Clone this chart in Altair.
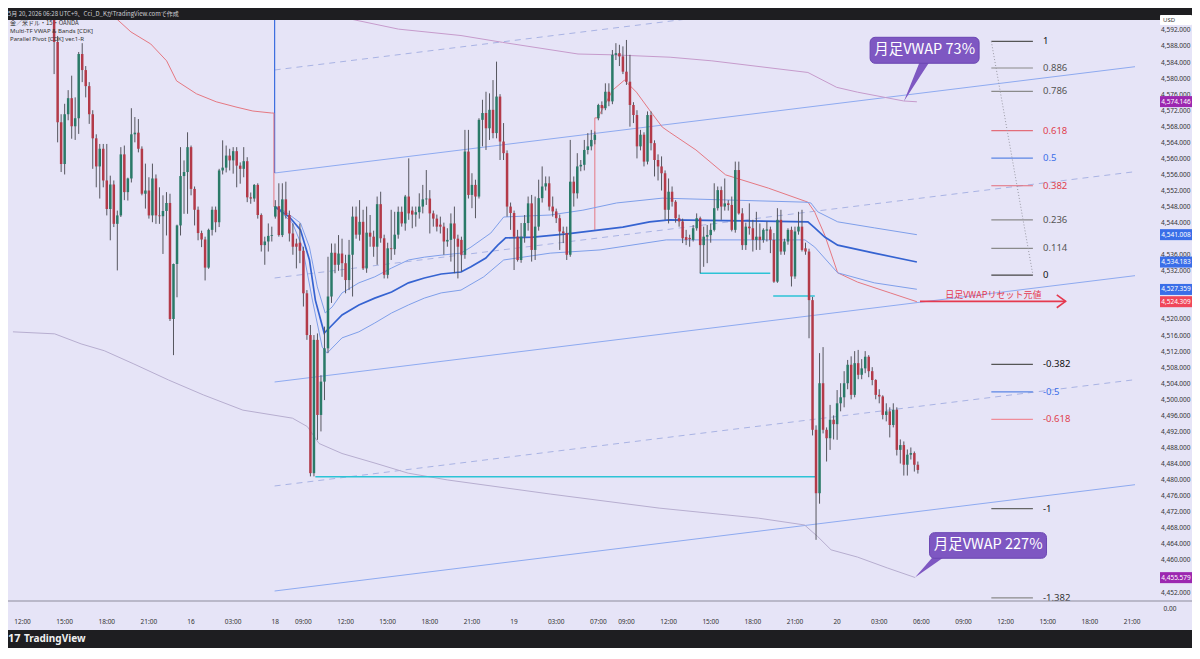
import altair as alt
import pandas as pd

LAV = "#e6e4f7"
DARK = "#1e1e21"
UP = "#2a7a68"
DOWN = "#b33a49"
WICK = "#56565f"
JP = "Noto Sans CJK JP"
LAT = "Noto Sans"

# ---------------- candles: 15-minute bars, hour index t (t=0 -> 15th 12:00 JST) ----------------
fri_start, mon_start, tue_start = 2.25, 18.0, 41.0

fri_o = [4598.0, 4589.0, 4569.0, 4558.6, 4571.0, 4575.0, 4568.0, 4570.0, 4586.0, 4582.0,
         4578.0, 4571.0, 4565.0, 4558.0, 4562.4, 4554.5, 4547.4, 4553.5, 4543.7, 4545.8,
         4561.0, 4551.6, 4555.0, 4566.0, 4566.4, 4562.4, 4551.2, 4552.0, 4545.8, 4555.0,
         4545.8, 4545.6, 4546.9, 4548.9, 4520.0, 4533.7, 4543.3, 4555.6, 4556.6, 4562.8,
         4552.4, 4547.2, 4541.4, 4539.8, 4532.8, 4542.2, 4547.2, 4544.1, 4557.0, 4557.7,
         4560.7, 4559.5, 4561.8, 4558.2, 4557.4, 4559.3, 4550.3, 4550.0, 4553.4, 4545.9,
         4538.4, 4539.3, 4540.7]
fri_h = [4604.0, 4590.5, 4571.0, 4573.6, 4577.0, 4580.6, 4575.2, 4586.5, 4588.7, 4583.0,
         4579.0, 4572.0, 4566.0, 4563.6, 4563.6, 4563.6, 4555.7, 4554.5, 4547.0, 4562.8,
         4563.2, 4555.2, 4572.5, 4570.3, 4569.8, 4563.0, 4558.7, 4555.3, 4558.7, 4556.0,
         4552.8, 4550.8, 4551.6, 4551.2, 4533.8, 4543.5, 4562.8, 4559.5, 4566.5, 4563.2,
         4553.0, 4548.0, 4542.0, 4540.5, 4542.5, 4548.0, 4548.0, 4557.4, 4564.5, 4563.2,
         4562.4, 4562.8, 4562.8, 4559.0, 4562.8, 4560.3, 4551.5, 4553.6, 4553.8, 4546.3,
         4540.5, 4543.8, 4543.0]
fri_l = [4581.0, 4564.0, 4556.6, 4556.0, 4569.5, 4564.9, 4564.6, 4566.1, 4579.0, 4575.2,
         4568.6, 4557.4, 4552.8, 4550.0, 4552.8, 4545.8, 4539.6, 4542.9, 4532.1, 4545.4,
         4549.6, 4549.5, 4554.0, 4564.0, 4561.5, 4550.8, 4547.5, 4545.0, 4544.1, 4543.7,
         4543.7, 4536.2, 4540.8, 4519.5, 4511.0, 4525.4, 4540.8, 4546.2, 4546.2, 4550.8,
         4543.3, 4539.6, 4537.9, 4529.6, 4532.5, 4540.8, 4541.6, 4542.9, 4556.0, 4556.5,
         4557.0, 4556.2, 4552.8, 4553.7, 4555.3, 4549.1, 4548.7, 4549.2, 4545.0, 4536.8,
         4533.5, 4536.8, 4539.3]
fri_c = [4589.0, 4569.0, 4558.6, 4571.0, 4575.0, 4568.0, 4570.0, 4586.0, 4582.0, 4578.0,
         4571.0, 4565.0, 4558.0, 4562.4, 4554.5, 4547.4, 4553.5, 4543.7, 4545.8, 4561.0,
         4551.6, 4555.0, 4566.0, 4566.4, 4562.4, 4551.2, 4552.0, 4545.8, 4555.0, 4545.8,
         4545.6, 4546.9, 4548.9, 4520.0, 4533.7, 4543.3, 4555.6, 4556.6, 4562.8, 4552.4,
         4547.2, 4541.4, 4539.8, 4532.8, 4542.2, 4547.2, 4544.1, 4557.0, 4557.7, 4560.7,
         4559.5, 4561.8, 4558.2, 4557.4, 4559.3, 4550.3, 4550.0, 4553.4, 4545.9, 4538.4,
         4539.3, 4540.7, 4540.9]

mon_o = [4545.5, 4548.1, 4540.9, 4549.8, 4545.9, 4541.3, 4538.8, 4539.0, 4537.0, 4526.4,
         4516.0, 4481.6, 4514.8, 4496.1, 4504.4, 4512.7, 4525.6, 4536.5, 4533.5, 4536.3,
         4533.9, 4529.7, 4536.0, 4545.5, 4541.0, 4544.2, 4532.6, 4541.5, 4540.5, 4538.0,
         4548.6, 4540.1, 4531.0, 4537.6, 4537.4, 4541.0, 4546.7, 4543.8, 4550.5, 4547.0,
         4546.0, 4546.6, 4548.0, 4549.8, 4550.0, 4546.3, 4545.0, 4543.5, 4543.0, 4539.3,
         4539.7, 4543.8, 4540.0, 4539.7, 4536.0, 4561.7, 4550.9, 4553.4, 4550.5, 4569.6,
         4571.3, 4567.5, 4572.1, 4566.3, 4575.4, 4564.2, 4561.3, 4548.0, 4546.4, 4540.5,
         4534.7, 4540.5, 4543.9, 4548.8, 4537.2, 4543.0, 4550.1, 4553.0, 4553.8, 4548.0,
         4546.8, 4545.1, 4541.8, 4541.4, 4536.0, 4554.2, 4551.3, 4558.0, 4558.4, 4562.1,
         4563.0, 4564.6]
mon_h = [4549.6, 4553.8, 4553.8, 4554.2, 4547.0, 4543.8, 4540.0, 4543.8, 4538.0, 4527.2,
         4518.5, 4516.0, 4516.4, 4506.0, 4518.1, 4535.5, 4538.8, 4538.8, 4540.9, 4540.0,
         4536.0, 4539.7, 4548.0, 4548.0, 4549.6, 4547.2, 4548.0, 4545.9, 4542.0, 4550.5,
         4551.7, 4541.0, 4539.0, 4547.2, 4546.7, 4548.0, 4548.0, 4550.9, 4560.0, 4548.0,
         4548.0, 4551.3, 4553.4, 4557.1, 4552.1, 4547.0, 4546.0, 4545.5, 4544.0, 4542.6,
         4546.3, 4548.0, 4541.0, 4540.5, 4567.1, 4567.1, 4556.3, 4554.7, 4570.0, 4574.6,
         4576.6, 4576.2, 4579.5, 4584.1, 4576.0, 4568.8, 4562.0, 4549.0, 4547.0, 4542.2,
         4543.9, 4545.9, 4550.5, 4550.9, 4550.5, 4554.7, 4558.0, 4555.5, 4555.5, 4550.5,
         4547.5, 4546.0, 4543.0, 4543.0, 4564.6, 4555.5, 4561.3, 4559.6, 4564.6, 4566.3,
         4567.1, 4566.7]
mon_l = [4545.0, 4540.5, 4540.4, 4545.0, 4539.3, 4536.0, 4532.6, 4533.9, 4523.1, 4514.8,
         4480.8, 4480.8, 4489.9, 4492.0, 4499.8, 4511.5, 4524.0, 4531.4, 4532.0, 4530.5,
         4526.4, 4527.2, 4525.6, 4540.0, 4539.5, 4532.2, 4531.5, 4538.0, 4535.5, 4533.5,
         4539.0, 4530.1, 4530.1, 4534.7, 4536.0, 4540.0, 4543.0, 4542.0, 4544.7, 4542.6,
         4543.0, 4545.0, 4546.3, 4548.4, 4541.3, 4543.0, 4541.8, 4541.3, 4536.0, 4538.0,
         4534.3, 4531.4, 4530.1, 4531.8, 4535.0, 4550.0, 4547.6, 4545.1, 4550.0, 4563.0,
         4562.1, 4564.6, 4565.0, 4565.0, 4559.6, 4559.6, 4545.5, 4542.2, 4532.2, 4534.3,
         4534.0, 4539.0, 4542.0, 4534.3, 4534.7, 4542.0, 4549.0, 4552.0, 4547.0, 4545.5,
         4543.9, 4537.2, 4538.9, 4534.7, 4535.5, 4548.0, 4550.0, 4556.8, 4557.0, 4561.0,
         4562.0, 4563.5]
mon_c = [4548.1, 4540.9, 4549.8, 4545.9, 4541.3, 4538.0, 4538.0, 4537.0, 4526.4, 4516.0,
         4481.6, 4514.8, 4496.1, 4504.4, 4512.7, 4525.6, 4536.5, 4533.5, 4536.3, 4533.9,
         4529.7, 4536.0, 4545.5, 4541.0, 4544.2, 4532.6, 4541.5, 4540.5, 4538.0, 4548.6,
         4540.1, 4531.0, 4537.6, 4537.4, 4541.0, 4546.7, 4543.8, 4550.5, 4546.3, 4546.0,
         4546.6, 4548.0, 4549.8, 4550.0, 4546.3, 4545.0, 4543.0, 4543.0, 4539.3, 4539.7,
         4543.8, 4540.0, 4538.0, 4536.0, 4561.7, 4550.9, 4553.4, 4550.5, 4569.6, 4571.3,
         4567.5, 4572.1, 4566.3, 4575.4, 4564.2, 4561.3, 4548.0, 4546.4, 4540.5, 4534.7,
         4540.5, 4543.9, 4548.8, 4537.2, 4543.0, 4550.1, 4553.0, 4553.8, 4548.0, 4546.8,
         4545.1, 4541.8, 4541.4, 4536.0, 4554.2, 4551.3, 4558.0, 4558.4, 4562.1, 4563.0,
         4564.6, 4565.9]

tue_o = [4570.0, 4573.3, 4572.5, 4576.6, 4574.2, 4585.8, 4586.2, 4585.4, 4581.6, 4579.1,
         4573.3, 4570.8, 4563.0, 4565.9, 4559.2, 4570.8, 4563.8, 4559.6, 4558.0, 4556.3,
         4547.2, 4551.7, 4549.2, 4545.1, 4544.3, 4540.4, 4540.2, 4539.7, 4542.6, 4545.1,
         4538.4, 4540.5, 4540.9, 4542.2, 4547.6, 4552.1, 4548.0, 4548.8, 4548.4, 4542.2,
         4557.1, 4546.3, 4538.4, 4543.0, 4542.6, 4539.7, 4540.5, 4539.7, 4542.0, 4542.3,
         4539.7, 4529.3, 4544.7, 4536.8, 4539.3, 4542.2, 4530.6, 4541.8, 4543.0, 4537.6,
         4536.8, 4524.7, 4492.4, 4476.6, 4504.0, 4492.4, 4490.3, 4494.9, 4493.8, 4499.0,
         4500.5, 4504.0, 4508.6, 4501.1, 4509.0, 4506.1, 4507.7, 4510.6, 4507.0, 4504.8,
         4501.1, 4500.7, 4496.1, 4497.0, 4493.6, 4497.4, 4487.4, 4488.6, 4483.7, 4486.2,
         4486.6, 4483.7]
tue_h = [4573.6, 4574.2, 4578.7, 4578.7, 4587.0, 4588.7, 4588.3, 4587.9, 4589.5, 4585.8,
         4574.0, 4572.0, 4567.1, 4566.5, 4571.7, 4571.7, 4564.5, 4561.0, 4560.5, 4557.0,
         4555.0, 4553.0, 4549.6, 4546.0, 4545.0, 4542.2, 4541.0, 4543.4, 4546.3, 4545.5,
         4543.0, 4543.4, 4543.8, 4553.8, 4553.0, 4553.0, 4555.0, 4549.6, 4550.5, 4559.2,
         4559.2, 4547.6, 4544.0, 4548.8, 4544.7, 4546.7, 4543.8, 4542.6, 4544.3, 4543.0,
         4541.4, 4547.6, 4547.2, 4540.0, 4542.6, 4543.0, 4543.0, 4546.7, 4547.2, 4539.0,
         4537.5, 4525.5, 4493.5, 4511.5, 4513.0, 4493.0, 4498.6, 4496.0, 4502.3, 4504.0,
         4507.0, 4509.8, 4510.7, 4512.0, 4512.3, 4510.0, 4512.0, 4511.0, 4508.0, 4505.0,
         4502.5, 4501.0, 4499.0, 4498.0, 4499.0, 4498.0, 4490.0, 4489.5, 4487.5, 4488.0,
         4487.0, 4484.5]
tue_l = [4569.5, 4571.0, 4572.0, 4573.0, 4573.5, 4584.5, 4583.0, 4581.0, 4578.3, 4567.9,
         4568.8, 4560.0, 4562.0, 4558.0, 4558.5, 4562.0, 4555.5, 4554.5, 4552.0, 4544.7,
         4543.8, 4548.0, 4544.0, 4543.0, 4538.9, 4538.4, 4538.0, 4539.3, 4542.0, 4531.4,
         4533.0, 4533.9, 4539.0, 4541.8, 4547.0, 4544.7, 4547.0, 4547.0, 4541.8, 4541.5,
         4546.0, 4537.2, 4537.2, 4541.0, 4536.8, 4537.2, 4537.2, 4539.0, 4539.3, 4536.4,
         4529.0, 4529.0, 4536.0, 4536.0, 4538.5, 4528.1, 4530.0, 4541.0, 4536.8, 4536.0,
         4515.2, 4491.0, 4465.0, 4474.0, 4491.5, 4484.5, 4487.4, 4490.0, 4489.9, 4497.0,
         4498.0, 4502.5, 4500.0, 4500.5, 4505.0, 4505.0, 4506.5, 4505.5, 4503.5, 4500.0,
         4499.0, 4495.0, 4494.5, 4490.5, 4493.0, 4486.0, 4484.0, 4481.0, 4481.0, 4485.0,
         4482.0, 4481.5]
tue_c = [4573.3, 4572.5, 4576.6, 4574.2, 4585.8, 4586.2, 4585.4, 4581.6, 4579.1, 4573.3,
         4570.8, 4563.0, 4565.9, 4559.2, 4570.8, 4563.8, 4559.6, 4558.0, 4556.3, 4547.2,
         4551.7, 4549.2, 4545.1, 4544.3, 4540.1, 4539.7, 4539.9, 4542.6, 4545.1, 4538.4,
         4540.5, 4540.9, 4542.2, 4547.6, 4552.1, 4548.0, 4548.8, 4548.4, 4542.2, 4557.1,
         4546.3, 4538.4, 4543.0, 4542.6, 4539.7, 4540.5, 4539.7, 4542.2, 4542.3, 4539.7,
         4529.3, 4544.7, 4536.8, 4539.3, 4542.2, 4530.6, 4541.8, 4543.0, 4537.2, 4536.8,
         4524.7, 4492.4, 4476.6, 4504.0, 4492.4, 4490.3, 4494.9, 4493.8, 4499.0, 4500.5,
         4504.0, 4508.6, 4501.1, 4509.0, 4506.1, 4507.7, 4510.6, 4507.0, 4504.8, 4501.1,
         4500.7, 4496.1, 4497.0, 4493.6, 4497.4, 4487.4, 4488.6, 4483.7, 4486.2, 4486.6,
         4483.7, 4482.4]

# ---------------- indicator lines (t, price) ----------------
wvwap_t = [18.0, 19.01, 19.79, 20.43, 20.85, 21.48, 21.91, 22.75, 23.95, 25.08, 26.28, 27.48, 28.61,
           29.81, 31.22, 31.93, 32.99, 33.84, 34.40, 36.37, 38.77, 41.12, 42.74, 44.65, 46.04, 50.06,
           55.92, 56.41, 57.12, 58.04, 60.65, 63.68]
wvwap_p = [4547.9, 4545.4, 4542.2, 4534.7, 4524.7, 4516.5, 4518.0, 4521.0, 4523.5, 4525.2, 4526.7,
           4529.0, 4530.2, 4531.2, 4531.7, 4533.0, 4535.2, 4538.4, 4540.2, 4540.4, 4541.2, 4542.2,
           4542.9, 4544.2, 4544.7, 4544.5, 4544.2, 4542.7, 4540.4, 4538.4, 4536.4, 4534.2]
wup_t = [18.0, 18.73, 19.79, 20.43, 20.99, 21.55, 22.05, 22.75, 23.95, 25.08, 26.28, 27.48, 28.61,
         29.81, 31.22, 31.93, 33.34, 34.26, 37.57, 39.90, 42.30, 45.55, 55.71, 56.13, 56.62, 58.04,
         60.65, 63.68]
wup_p = [4547.9, 4546.7, 4543.9, 4537.9, 4528.0, 4521.5, 4523.0, 4526.5, 4529.0, 4530.5, 4532.7,
         4534.7, 4535.4, 4535.9, 4536.4, 4537.9, 4541.4, 4545.4, 4545.9, 4547.1, 4548.9, 4550.1,
         4549.1, 4548.9, 4546.7, 4544.2, 4542.7, 4541.0]
wlo_t = [18.0, 19.22, 19.93, 20.64, 21.34, 21.69, 22.75, 23.95, 25.08, 26.28, 27.48, 28.61, 29.81,
         31.22, 32.84, 34.26, 37.57, 41.12, 45.83, 55.71, 56.41, 58.04, 60.65, 63.68]
wlo_p = [4547.9, 4543.9, 4537.9, 4524.7, 4513.0, 4511.5, 4515.3, 4516.8, 4519.0, 4521.5, 4523.5,
         4525.2, 4526.5, 4527.2, 4530.5, 4534.7, 4536.4, 4537.2, 4539.7, 4539.7, 4537.9, 4531.5,
         4529.0, 4527.4]
dfri_t = [5.5, 6.31, 7.72, 9.13, 10.26, 10.97, 12.38, 13.79, 15.20, 16.40, 17.74, 17.9, 17.9]
dfri_p = [4600.0, 4596.0, 4591.5, 4588.5, 4584.3, 4579.3, 4576.1, 4574.1, 4572.8, 4571.8, 4571.3,
          4571.3, 4547.9]
dtue_t = [40.75, 40.75, 40.96, 42.02, 42.86, 43.71, 44.63, 45.55, 46.04, 47.95, 50.06, 53.10, 55.92,
          56.41, 57.12, 58.04, 59.45, 61.78, 63.68]
dtue_p = [4542.2, 4570.1, 4570.1, 4577.0, 4579.5, 4576.5, 4572.1, 4567.8, 4566.6, 4562.1, 4555.9,
          4552.6, 4549.1, 4546.6, 4540.9, 4531.5, 4529.2, 4526.5, 4524.3]
mup_t = [16.40, 21.60, 26.77, 31.22, 34.18, 39.55, 41.95, 46.11, 49.08, 55.92, 57.97, 59.45, 62.74, 63.68]
mup_p = [4601.9, 4596.0, 4592.2, 4590.6, 4588.9, 4586.0, 4585.8, 4585.2, 4584.3, 4581.4, 4577.7,
         4576.5, 4574.3, 4574.1]
mlo_t = [-0.68, 2.29, 4.17, 5.82, 7.93, 10.40, 12.87, 15.69, 19.22, 20.28, 21.11, 22.75, 25.10, 27.46,
         30.28, 37.57, 45.33, 52.39, 55.68, 56.62, 57.57, 59.45, 61.57, 63.56]
mlo_p = [4516.8, 4516.3, 4513.8, 4512.1, 4508.8, 4504.8, 4501.1, 4497.3, 4495.3, 4493.2, 4489.0,
         4486.5, 4484.1, 4481.6, 4479.9, 4476.4, 4472.9, 4470.4, 4468.7, 4465.8, 4462.5, 4460.7,
         4458.0, 4455.6]

# parallel pivot channel (start at Monday open, end at right edge)
chan_t = [17.95, 79.21]
chan_p0 = [4582.02, 4556.36, 4530.21, 4504.31, 4478.41, 4452.25]
chan_p1 = [4608.50, 4582.84, 4556.69, 4530.79, 4504.89, 4478.73]
chan_dashed = [True, False, True, False, True, False]

# horizontal cyan lines
cy_t1 = [20.85, 48.23, 53.45]
cy_t2 = [56.48, 53.24, 56.41]
cy_p = [4480.7, 4531.4, 4525.7]

# fibonacci
fib_levels = [1, 0.886, 0.786, 0.618, 0.5, 0.382, 0.236, 0.114, 0, -0.382, -0.5, -0.618, -1, -1.382]
fib_text = ["1", "0.886", "0.786", "0.618", "0.5", "0.382", "0.236", "0.114", "0",
            "-0.382", "-0.5", "-0.618", "-1", "-1.382"]
fib_hi, fib_lo = 4589.15, 4530.95
fib_t = [68.98, 71.94]
fib_line_col = ["#555", "#8a8a8a", "#8a8a8a", "#e36d7a", "#5b86e5", "#e36d7a", "#8a8a8a", "#8a8a8a",
                "#444", "#555", "#5b86e5", "#f08c99", "#666", "#8a8a8a"]
fib_lab_col = ["#111", "#555", "#555", "#e0404f", "#3a6ee8", "#e0404f", "#555", "#555", "#111",
               "#111", "#3a6ee8", "#e0404f", "#111", "#333"]

# right price tags
tag_p = [4574.146, 4541.008, 4534.183, 4527.359, 4524.309, 4455.579]
tag_col = ["#9c27b0", "#3a6ee8", "#3a6ee8", "#3a6ee8", "#f0475a", "#9c27b0"]

# time axis labels
tl_t = [0, 3, 6, 9, 12, 15, 18, 20, 23, 26, 29, 32, 35, 38, 41, 43, 46, 49, 52, 55, 58, 61, 64,
        67, 70, 73, 76, 79]
tl_s = ["12:00", "15:00", "18:00", "21:00", "16", "03:00", "18", "09:00", "12:00", "15:00", "18:00",
        "21:00", "19", "03:00", "07:00", "09:00", "12:00", "15:00", "18:00", "21:00", "20", "03:00",
        "06:00", "09:00", "12:00", "15:00", "18:00", "21:00"]

# ---------------- scales ----------------
X = alt.Scale(domain=[-0.6775, 79.21], nice=False, zero=False)
Y = alt.Scale(domain=[4449.76, 4594.47], nice=False, zero=False)
ytick = [v for v in range(4452, 4593, 4) if v not in (4456, 4540, 4528, 4524)]
YAX = alt.Axis(orient="right", values=ytick, format=",.3f", labelFontSize=6.5, labelColor="#333",
               labelFont=LAT, domain=False, ticks=False, tickSize=0, grid=False, labelPadding=50,
               labelAlign="right", title=None)


def xq(f="t"):
    return alt.X(f + ":Q", scale=X, axis=None)


def yq(f="p"):
    return alt.Y(f + ":Q", scale=Y, axis=YAX)


def line(ts, ps, color, width=1.0, dash=None):
    df = pd.DataFrame({"t": ts, "p": ps, "i": list(range(len(ts)))})
    kw = dict(color=color, strokeWidth=width, clip=True)
    if dash is not None:
        kw["strokeDash"] = dash
    return alt.Chart(df).mark_line(**kw).encode(x=xq(), y=yq(), order=alt.Order("i:Q"))


ONE = alt.Data(values=[{"a": 1}])


def ptext(txt, x, y, size, color, align="left", weight="normal", font=JP):
    return alt.Chart(ONE).mark_text(text=txt, fontSize=size, color=color, align=align,
                                     baseline="middle", font=font, fontWeight=weight).encode(
        x=alt.value(x), y=alt.value(y))


def pbox(x1, x2, y1, y2, fill, r=0):
    return alt.Chart(ONE).mark_rect(fill=fill, cornerRadius=r).encode(
        x=alt.value(x1), x2=alt.value(x2), y=alt.value(y1), y2=alt.value(y2))


def bars(start, o, h, l, c):
    return pd.DataFrame({"t": [start + 0.25 * k for k in range(len(o))],
                         "open": o, "high": h, "low": l, "close": c})


candles = pd.concat([bars(fri_start, fri_o, fri_h, fri_l, fri_c),
                     bars(mon_start, mon_o, mon_h, mon_l, mon_c),
                     bars(tue_start, tue_o, tue_h, tue_l, tue_c)], ignore_index=True)
candles["dir"] = ["up" if c >= o else "down" for o, c in zip(candles["open"], candles["close"])]

layers = []

# channel lines
for k in range(6):
    if chan_dashed[k]:
        layers.append(line(chan_t, [chan_p0[k], chan_p1[k]], "#a9b3e4", 1.0, [6, 5]))
    else:
        layers.append(line(chan_t, [chan_p0[k], chan_p1[k]], "#8eaaf0", 1.0))

# monthly bands
layers.append(line(mup_t, mup_p, "#c69bcc", 1.0))
layers.append(line(mlo_t, mlo_p, "#b7aed0", 1.0))

# fib
fib_df = pd.DataFrame({
    "t1": [fib_t[0]] * len(fib_levels), "t2": [fib_t[1]] * len(fib_levels),
    "p": [fib_lo + lv * (fib_hi - fib_lo) for lv in fib_levels],
    "lc": fib_line_col, "tc": fib_lab_col, "s": fib_text})
layers.append(alt.Chart(fib_df).mark_rule(strokeWidth=1.2, clip=True).encode(
    x=xq("t1"), x2="t2:Q", y=yq("p"), color=alt.Color("lc:N", scale=None)))
layers.append(alt.Chart(fib_df).mark_text(align="left", baseline="middle", fontSize=9.5, font=LAT,
                                          dx=0).encode(
    x=alt.value((1043 - 8)), y=yq("p"), text="s:N", color=alt.Color("tc:N", scale=None)))
layers.append(line(fib_t, [fib_hi, fib_lo], "#9a9aa5", 1.0, [1, 2]))

# cyan horizontals
cy_df = pd.DataFrame({"t1": cy_t1, "t2": cy_t2, "p": cy_p})
layers.append(alt.Chart(cy_df).mark_rule(color="#2cc3d6", strokeWidth=1.5, clip=True).encode(
    x=xq("t1"), x2="t2:Q", y=yq("p")))

# blue separator
layers.append(line([17.95, 17.95], [4597.0, 4556.36], "#3b6de0", 1.2))

# daily vwap (red)
layers.append(line(dfri_t, dfri_p, "#e57882", 1.0))
layers.append(line(dtue_t, dtue_p, "#e57882", 1.0))

# weekly vwap & bands
layers.append(line(wup_t, wup_p, "#7f9fea", 1.0))
layers.append(line(wlo_t, wlo_p, "#7f9fea", 1.0))
layers.append(line(wvwap_t, wvwap_p, "#3563d1", 1.7))

# candles
layers.append(alt.Chart(candles).mark_rule(color=WICK, strokeWidth=1, clip=True).encode(
    x=xq(), y=yq("low"), y2="high:Q"))
layers.append(alt.Chart(candles).mark_bar(width=2.5, clip=True).encode(
    x=xq(), y=yq("open"), y2="close:Q",
    color=alt.Color("dir:N", scale=alt.Scale(domain=["up", "down"], range=[UP, DOWN]), legend=None)))

# red arrow + text
layers.append(line([63.9, 74.27], [4524.4, 4524.4], "#e5394f", 1.6))
layers.append(line([73.64, 74.27, 73.64], [4526.0, 4524.4, 4522.8], "#e5394f", 1.6))
arr_df = pd.DataFrame({"t": [69.12], "p": [4526.1], "s": ["日足VWAPリセット元値"]})
layers.append(alt.Chart(arr_df).mark_text(fontSize=9, font=JP, color="#e5394f", align="center",
                                          baseline="middle").encode(x=xq(), y=yq(), text="s:N"))


# callouts
def tail_df(tip, a, b):
    frac = (a[0] - tip[0]) / (b[0] - tip[0])
    low_a = tip[1] + (b[1] - tip[1]) * frac
    return pd.DataFrame({"t": [tip[0], a[0], b[0]], "y": [tip[1], a[1], b[1]],
                         "y2": [tip[1], low_a, b[1]]})


PURP = "#7e57c2"
call_df = pd.DataFrame({"t1": [60.35, 64.58], "t2": [68.11, 72.91],
                        "p1": [4590.16, 4466.78], "p2": [4583.69, 4460.40],
                        "tc": [64.23, 68.75], "pc": [4586.9, 4463.6],
                        "s": ["月足VWAP 73%", "月足VWAP 227%"]})
tail1 = tail_df((62.75, 4574.2), (63.90, 4584.2), (64.61, 4584.2))
tail2 = tail_df((63.56, 4455.67), (64.86, 4460.9), (65.70, 4460.9))
for tdf in (tail1, tail2):
    layers.append(alt.Chart(tdf).mark_area(color=PURP, opacity=1).encode(
        x=xq(), y=yq("y"), y2="y2:Q"))
layers.append(alt.Chart(call_df).mark_rect(fill=PURP, stroke="#6b47b3", strokeWidth=1,
                                           cornerRadius=5).encode(
    x=xq("t1"), x2="t2:Q", y=yq("p1"), y2="p2:Q"))
layers.append(alt.Chart(call_df).mark_text(fontSize=14.5, font=JP, color="white", align="center",
                                           baseline="middle").encode(
    x=xq("tc"), y=yq("pc"), text="s:N"))

# price tags on the right axis
tag_df = pd.DataFrame({"p": tag_p, "c": tag_col})
tag_df["a"] = tag_df["p"] + 1.37
tag_df["b"] = tag_df["p"] - 1.37
layers.append(alt.Chart(tag_df).mark_rect().encode(
    x=alt.value(1152), x2=alt.value(1184), y=yq("a"), y2="b:Q", fill=alt.Color("c:N", scale=None)))
layers.append(alt.Chart(tag_df).mark_text(fontSize=6.5, font=LAT, color="white", align="center",
                                          baseline="middle").encode(
    x=alt.value(1168), y=yq("p"), text=alt.Text("p:Q", format=",.3f")))

# chrome: header, legend, time axis, footer
layers.append(pbox(0, 1184, -12, 0, DARK))
layers.append(ptext("5月 20, 2026 06:28 UTC+9、Cci_D_KがTradingView.comで作成", 0, -6, 6, "#cfcfd4"))
layers.append(ptext("金／米ドル・15・OANDA", 2, 3, 6, "#333"))
layers.append(ptext("Multi-TF VWAP & Bands [CDK]", 2, 11, 6, "#333", font=LAT))
layers.append(ptext("Parallel Pivot [CDK] ver.1-R", 2, 19, 6, "#333", font=LAT))
layers.append(pbox(1152, 1184, -5, 5, "#ffffff", 1))
layers.append(ptext("USD", 1155, 0, 6, "#333", font=LAT))
layers.append(alt.Chart(ONE).mark_rule(color="#8d8c9c", strokeWidth=1).encode(
    x=alt.value(0), x2=alt.value(1184), y=alt.value(581)))
tl_df = pd.DataFrame({"t": tl_t, "s": tl_s})
layers.append(alt.Chart(tl_df).mark_text(fontSize=6.5, font=LAT, color="#333", align="center",
                                         baseline="middle").encode(
    x=xq(), y=alt.value(602), text="s:N"))
layers.append(ptext("0.00", 1162, 589, 6.5, "#333", align="center", font=LAT))
layers.append(pbox(0, 1184, 610, 628, DARK))
layers.append(ptext("17", 0, 619, 11, "#f0f0f0", weight="bold", font=LAT))
layers.append(ptext("TradingView", 16, 619, 10, "#f0f0f0", weight="bold", font=LAT))

chart = alt.layer(*layers).properties(
    width=1132, height=581,
    padding={"left": 0, "top": 12, "right": 52, "bottom": 47},
    autosize=alt.AutoSizeParams(type="none"),
    background=LAV,
).configure_view(stroke=None, fill=LAV)

chart.save("out.html", embed_options={"renderer": "svg", "actions": False})
